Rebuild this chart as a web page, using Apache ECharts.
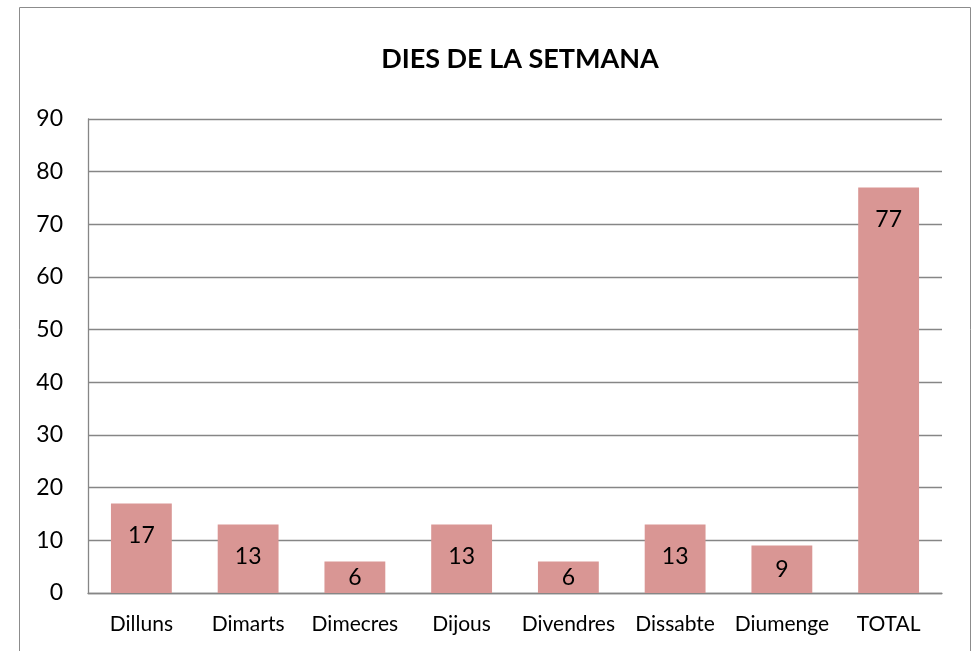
<!DOCTYPE html>
<html>
<head>
<meta charset="utf-8">
<script src="https://cdn.jsdelivr.net/npm/echarts@6/dist/echarts.min.js"></script>
<style>
    html, body { margin: 0; padding: 0; background: #fff; }
    #chart { width: 975px; height: 651px; }
</style>
</head>
<body>
<div id="chart"></div>
<script>
const categories = ['Dilluns', 'Dimarts', 'Dimecres', 'Dijous', 'Divendres', 'Dissabte', 'Diumenge', 'TOTAL']
const values = [17, 13, 6, 13, 6, 13, 9, 77]
const yTicks = { min: 0, max: 90, interval: 10 }

const font = 'Lato, "Open Sans", sans-serif'

const chart = echarts.init(document.getElementById('chart'))
chart.setOption({
    animation: false,
    title: {
        text: 'DIES DE LA SETMANA',
        left: 515,
        top: 41,
        textAlign: 'center',
        textStyle: { fontFamily: font, fontSize: 27, fontWeight: 'bold', color: '#000' }
    },
    graphic: [{
        type: 'rect',
        shape: { x: 19.5, y: 7.5, width: 951, height: 660 },
        style: { fill: 'none', stroke: '#8c8c8c', lineWidth: 1 },
        silent: true
    }],
    grid: { left: 88, right: 33, top: 119, bottom: 58 },
    xAxis: {
        type: 'category',
        data: categories,
        axisTick: { show: false },
        axisLine: { lineStyle: { color: '#868686', width: 1.3 } },
        axisLabel: { fontFamily: font, fontSize: 21, color: '#000', margin: 21, interval: 0 }
    },
    yAxis: {
        type: 'value',
        min: yTicks.min,
        max: yTicks.max,
        interval: yTicks.interval,
        axisLine: { show: true, lineStyle: { color: '#868686', width: 1.3 } },
        axisTick: { show: false },
        splitLine: { lineStyle: { color: '#868686', width: 1.3 } },
        axisLabel: { fontFamily: font, fontSize: 23, color: '#000', margin: 25 }
    },
    series: [{
        type: 'bar',
        data: values.map(v => ({
            value: v,
            label: v < 10 ? { position: 'inside' } : { position: 'insideTop', distance: 21 }
        })),
        barWidth: '57%',
        itemStyle: { color: '#D99694' },
        label: { show: true, fontFamily: font, fontSize: 23, color: '#000' }
    }]
})
</script>
</body>
</html>
